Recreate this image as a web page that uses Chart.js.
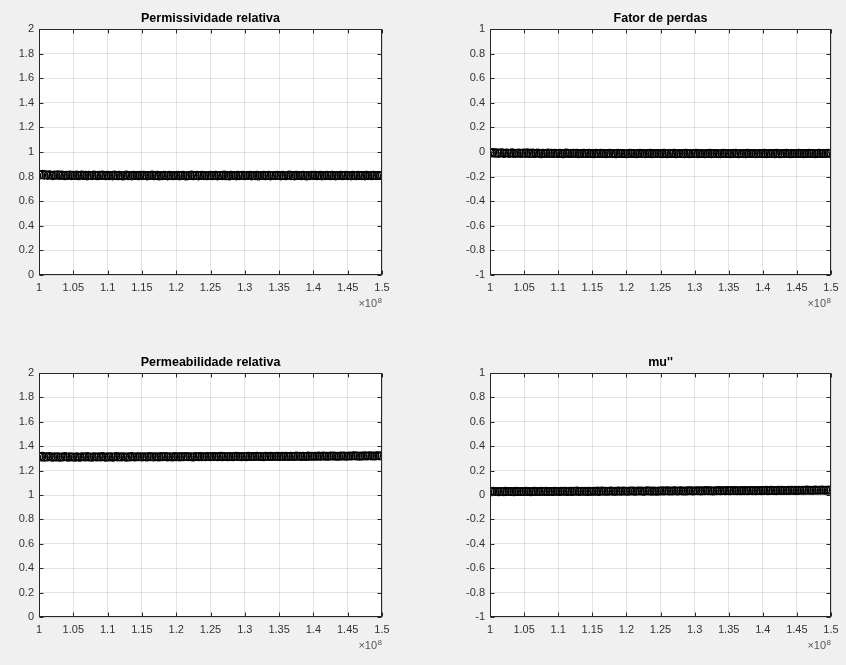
<!DOCTYPE html>
<html>
<head>
<meta charset="utf-8">
<script src="https://cdn.jsdelivr.net/npm/chart.js@4.4.1/dist/chart.umd.min.js"></script>
<style>
  html, body { margin:0; padding:0; background:#f0f0f0; }
  body { width:846px; height:665px; position:relative; overflow:hidden; }
  canvas { position:absolute; }
</style>
</head>
<body>
<canvas id="c1" width="423" height="332" style="left:0;top:0"></canvas>
<canvas id="c2" width="423" height="332" style="left:423px;top:0"></canvas>
<canvas id="c3" width="423" height="333" style="left:0;top:332px"></canvas>
<canvas id="c4" width="423" height="333" style="left:423px;top:332px"></canvas>
<script>
// Frequency sweep (MHz)
const freqMHz = [
 100,100.25,100.5,100.75,101,101.25,101.5,101.75,102,102.25,102.5,102.75,103,103.25,103.5,103.75,104,104.25,104.5,104.75,
 105,105.25,105.5,105.75,106,106.25,106.5,106.75,107,107.25,107.5,107.75,108,108.25,108.5,108.75,109,109.25,109.5,109.75,
 110,110.25,110.5,110.75,111,111.25,111.5,111.75,112,112.25,112.5,112.75,113,113.25,113.5,113.75,114,114.25,114.5,114.75,
 115,115.25,115.5,115.75,116,116.25,116.5,116.75,117,117.25,117.5,117.75,118,118.25,118.5,118.75,119,119.25,119.5,119.75,
 120,120.25,120.5,120.75,121,121.25,121.5,121.75,122,122.25,122.5,122.75,123,123.25,123.5,123.75,124,124.25,124.5,124.75,
 125,125.25,125.5,125.75,126,126.25,126.5,126.75,127,127.25,127.5,127.75,128,128.25,128.5,128.75,129,129.25,129.5,129.75,
 130,130.25,130.5,130.75,131,131.25,131.5,131.75,132,132.25,132.5,132.75,133,133.25,133.5,133.75,134,134.25,134.5,134.75,
 135,135.25,135.5,135.75,136,136.25,136.5,136.75,137,137.25,137.5,137.75,138,138.25,138.5,138.75,139,139.25,139.5,139.75,
 140,140.25,140.5,140.75,141,141.25,141.5,141.75,142,142.25,142.5,142.75,143,143.25,143.5,143.75,144,144.25,144.5,144.75,
 145,145.25,145.5,145.75,146,146.25,146.5,146.75,147,147.25,147.5,147.75,148,148.25,148.5,148.75,149,149.25,149.5,149.75,
 150
];
// Permissividade relativa
const permissividade = [
 0.818,0.813,0.820,0.811,0.816,0.809,0.815,0.812,0.807,0.814,0.810,0.816,0.808,0.813,0.811,0.806,0.812,0.809,0.814,0.807,
 0.811,0.808,0.813,0.806,0.810,0.814,0.808,0.811,0.805,0.812,0.809,0.807,0.813,0.810,0.806,0.811,0.808,0.814,0.809,0.806,
 0.812,0.807,0.810,0.805,0.813,0.809,0.806,0.811,0.808,0.804,0.810,0.813,0.807,0.809,0.805,0.812,0.808,0.810,0.806,0.811,
 0.807,0.812,0.809,0.805,0.810,0.808,0.813,0.806,0.809,0.811,0.804,0.810,0.807,0.812,0.808,0.805,0.811,0.809,0.806,0.810,
 0.808,0.812,0.805,0.809,0.811,0.807,0.804,0.810,0.808,0.813,0.806,0.809,0.811,0.805,0.808,0.812,0.807,0.810,0.806,0.809,
 0.811,0.806,0.809,0.812,0.805,0.808,0.810,0.807,0.813,0.806,0.809,0.804,0.811,0.808,0.810,0.805,0.812,0.807,0.809,0.811,
 0.806,0.810,0.808,0.812,0.805,0.809,0.807,0.811,0.804,0.810,0.808,0.812,0.806,0.809,0.811,0.805,0.808,0.810,0.807,0.812,
 0.809,0.805,0.811,0.808,0.806,0.810,0.813,0.807,0.809,0.805,0.811,0.808,0.810,0.806,0.812,0.809,0.804,0.810,0.807,0.811,
 0.808,0.812,0.806,0.809,0.811,0.805,0.810,0.807,0.812,0.808,0.806,0.811,0.809,0.805,0.810,0.808,0.812,0.806,0.809,0.811,
 0.807,0.810,0.805,0.812,0.808,0.806,0.811,0.809,0.807,0.810,0.805,0.812,0.808,0.810,0.806,0.811,0.809,0.807,0.810,0.808,
 0.809
];
// Fator de perdas
const fatorPerdas = [
 -0.004,-0.009,-0.003,-0.011,-0.006,-0.012,-0.008,-0.005,-0.013,-0.009,-0.007,-0.012,-0.010,-0.006,-0.014,-0.009,-0.011,-0.007,-0.013,-0.010,
 -0.008,-0.012,-0.006,-0.014,-0.010,-0.008,-0.013,-0.011,-0.007,-0.012,-0.015,-0.009,-0.011,-0.013,-0.008,-0.012,-0.010,-0.014,-0.009,-0.011,
 -0.013,-0.009,-0.012,-0.015,-0.010,-0.008,-0.013,-0.011,-0.014,-0.009,-0.012,-0.010,-0.016,-0.011,-0.013,-0.009,-0.012,-0.014,-0.010,-0.013,
 -0.011,-0.015,-0.009,-0.012,-0.014,-0.010,-0.013,-0.011,-0.016,-0.012,-0.009,-0.014,-0.011,-0.013,-0.015,-0.010,-0.012,-0.014,-0.011,-0.013,
 -0.016,-0.012,-0.010,-0.014,-0.011,-0.013,-0.015,-0.012,-0.009,-0.014,-0.012,-0.016,-0.011,-0.013,-0.010,-0.015,-0.012,-0.014,-0.011,-0.013,
 -0.012,-0.015,-0.010,-0.013,-0.016,-0.011,-0.014,-0.012,-0.010,-0.015,-0.013,-0.011,-0.014,-0.012,-0.016,-0.010,-0.013,-0.015,-0.011,-0.014,
 -0.012,-0.010,-0.015,-0.013,-0.011,-0.014,-0.016,-0.012,-0.013,-0.010,-0.015,-0.012,-0.014,-0.011,-0.013,-0.016,-0.012,-0.010,-0.014,-0.013,
 -0.011,-0.015,-0.012,-0.014,-0.010,-0.013,-0.016,-0.011,-0.014,-0.012,-0.015,-0.010,-0.013,-0.011,-0.014,-0.012,-0.016,-0.013,-0.011,-0.014,
 -0.012,-0.010,-0.015,-0.013,-0.011,-0.014,-0.012,-0.016,-0.010,-0.013,-0.015,-0.011,-0.014,-0.012,-0.010,-0.013,-0.015,-0.012,-0.014,-0.011,
 -0.013,-0.010,-0.014,-0.012,-0.015,-0.011,-0.013,-0.010,-0.014,-0.012,-0.011,-0.015,-0.013,-0.010,-0.012,-0.014,-0.011,-0.013,-0.010,-0.012,
 -0.010
];
// Permeabilidade relativa
const permeabilidade = [
 1.316,1.311,1.318,1.309,1.314,1.310,1.316,1.312,1.308,1.314,1.311,1.315,1.309,1.313,1.310,1.316,1.312,1.309,1.314,1.311,
 1.313,1.309,1.315,1.311,1.308,1.314,1.312,1.310,1.316,1.311,1.313,1.309,1.315,1.312,1.310,1.314,1.311,1.316,1.312,1.309,
 1.314,1.311,1.315,1.309,1.313,1.316,1.311,1.314,1.310,1.315,1.312,1.309,1.314,1.311,1.316,1.313,1.310,1.315,1.312,1.314,
 1.310,1.315,1.313,1.311,1.316,1.312,1.314,1.310,1.315,1.313,1.311,1.317,1.312,1.314,1.316,1.311,1.315,1.313,1.310,1.316,
 1.313,1.315,1.311,1.317,1.312,1.314,1.316,1.312,1.315,1.313,1.311,1.316,1.314,1.312,1.317,1.313,1.315,1.312,1.316,1.314,
 1.312,1.317,1.314,1.316,1.313,1.315,1.318,1.313,1.316,1.314,1.312,1.317,1.315,1.313,1.316,1.318,1.314,1.316,1.313,1.317,
 1.315,1.313,1.318,1.315,1.317,1.314,1.316,1.319,1.314,1.317,1.315,1.313,1.318,1.316,1.314,1.319,1.315,1.317,1.316,1.318,
 1.314,1.317,1.319,1.315,1.318,1.316,1.314,1.319,1.317,1.315,1.320,1.316,1.318,1.315,1.319,1.317,1.315,1.320,1.317,1.318,
 1.316,1.319,1.317,1.321,1.316,1.318,1.320,1.317,1.319,1.316,1.320,1.318,1.321,1.317,1.319,1.316,1.321,1.318,1.320,1.317,
 1.319,1.321,1.318,1.320,1.322,1.318,1.320,1.317,1.321,1.319,1.322,1.318,1.320,1.323,1.319,1.321,1.318,1.322,1.320,1.321,
 1.322
];
// mu''
const muDuasLinhas = [
 0.030,0.026,0.031,0.027,0.029,0.025,0.030,0.028,0.026,0.031,0.028,0.030,0.027,0.029,0.026,0.031,0.028,0.030,0.027,0.029,
 0.027,0.031,0.028,0.030,0.026,0.029,0.032,0.028,0.030,0.027,0.031,0.029,0.027,0.032,0.028,0.030,0.029,0.027,0.031,0.029,
 0.030,0.028,0.032,0.029,0.031,0.027,0.030,0.032,0.028,0.031,0.029,0.033,0.028,0.030,0.032,0.029,0.031,0.028,0.032,0.030,
 0.029,0.032,0.030,0.033,0.028,0.031,0.033,0.030,0.032,0.029,0.031,0.034,0.030,0.032,0.029,0.033,0.031,0.029,0.033,0.031,
 0.032,0.030,0.034,0.031,0.033,0.029,0.032,0.034,0.031,0.033,0.030,0.032,0.035,0.031,0.033,0.030,0.034,0.032,0.030,0.034,
 0.032,0.035,0.031,0.033,0.035,0.032,0.034,0.031,0.035,0.033,0.031,0.034,0.036,0.032,0.034,0.031,0.035,0.033,0.036,0.032,
 0.034,0.036,0.033,0.035,0.032,0.036,0.034,0.037,0.033,0.035,0.034,0.032,0.036,0.034,0.037,0.033,0.035,0.036,0.034,0.037,
 0.035,0.033,0.037,0.035,0.038,0.034,0.036,0.034,0.038,0.035,0.037,0.034,0.036,0.038,0.035,0.037,0.034,0.038,0.036,0.035,
 0.038,0.036,0.039,0.035,0.037,0.039,0.036,0.038,0.035,0.039,0.037,0.040,0.036,0.038,0.036,0.039,0.037,0.040,0.037,0.039,
 0.036,0.039,0.038,0.040,0.037,0.039,0.041,0.038,0.040,0.037,0.039,0.041,0.038,0.040,0.039,0.042,0.038,0.040,0.039,0.041,
 0.040
];
const titles = ['Permissividade relativa','Fator de perdas','Permeabilidade relativa',"mu''"];
const xTickValues = [1,1.05,1.1,1.15,1.2,1.25,1.3,1.35,1.4,1.45,1.5]; // ×10^8
const yRanges = [[0,2],[-1,1],[0,2],[-1,1]];

const FONT = "'Liberation Sans', Arial, Helvetica, sans-serif";
const AXIS_COLOR = '#262626';

const matlabAxes = {
  id: 'matlabAxes',
  beforeDraw(chart) {
    const {ctx, chartArea: a} = chart;
    ctx.save();
    ctx.fillStyle = '#ffffff';
    ctx.fillRect(a.left, a.top, a.right - a.left, a.bottom - a.top);
    ctx.restore();
  },
  afterDraw(chart) {
    const {ctx, chartArea: a} = chart;
    const L = Math.round(a.left) + 0.5, R = Math.round(a.right) - 0.5;
    const T = Math.round(a.top) + 0.5, B = Math.round(a.bottom) - 0.5;
    ctx.save();
    ctx.strokeStyle = AXIS_COLOR;
    ctx.lineWidth = 1;
    ctx.strokeRect(L, T, R - L, B - T);
    const tl = 4;
    ctx.beginPath();
    chart.scales.x.ticks.forEach(t => {
      const px = Math.round(chart.scales.x.getPixelForValue(t.value)) + 0.5;
      ctx.moveTo(px, B); ctx.lineTo(px, B - tl);
      ctx.moveTo(px, T); ctx.lineTo(px, T + tl);
    });
    chart.scales.y.ticks.forEach(t => {
      const py = Math.round(chart.scales.y.getPixelForValue(t.value)) + 0.5;
      ctx.moveTo(L, py); ctx.lineTo(L + tl, py);
      ctx.moveTo(R, py); ctx.lineTo(R - tl, py);
    });
    ctx.stroke();
    // title
    const opt = chart.options.plugins.matlabAxes;
    ctx.fillStyle = '#000';
    ctx.font = 'bold 12.5px ' + FONT;
    ctx.textAlign = 'center';
    ctx.textBaseline = 'middle';
    ctx.fillText(opt.title, (a.left + a.right) / 2, a.top - 10);
    // exponent label
    ctx.fillStyle = '#555';
    ctx.textAlign = 'right';
    ctx.textBaseline = 'alphabetic';
    ctx.font = '8px ' + FONT;
    const eW = ctx.measureText('8').width;
    ctx.fillText('8', a.right, a.bottom + 28);
    ctx.font = '11px ' + FONT;
    ctx.fillText('\u00d710', a.right - eW - 0.5, a.bottom + 32);
    ctx.restore();
  }
};

function makeChart(id, idx, values, pad, yW) {
  const pts = freqMHz.map((f, i) => ({x: f * 1e6, y: values[i]}));
  const [ymin, ymax] = yRanges[idx];
  new Chart(document.getElementById(id), {
    type: 'scatter',
    data: { datasets: [{
      data: pts,
      showLine: false,
      pointStyle: 'circle',
      pointRadius: 3.8,
      pointBorderWidth: 1.2,
      pointBorderColor: '#000',
      pointBackgroundColor: 'rgba(0,0,0,0)'
    }]},
    options: {
      responsive: false,
      animation: false,
      devicePixelRatio: 1,
      layout: { padding: pad },
      plugins: { legend: {display:false}, tooltip: {enabled:false}, title: {display:false},
                 matlabAxes: { title: titles[idx] } },
      scales: {
        x: {
          type: 'linear', min: 1e8, max: 1.5e8,
          afterBuildTicks: s => { s.ticks = xTickValues.map(v => ({value: v * 1e8})); },
          afterFit: s => { s.height = 20; },
          ticks: { autoSkip:false, maxRotation:0, padding: 6, color:'#333',
                   font:{family:FONT, size:11},
                   callback: v => String(Number((v/1e8).toFixed(2))) },
          grid: { color:'rgba(38,38,38,0.13)', drawTicks:false, lineWidth:1 },
          border: { display:false }
        },
        y: {
          min: ymin, max: ymax,
          afterFit: s => { s.width = yW; },
          ticks: { stepSize: 0.2, autoSkip:false, padding: 5, color:'#333',
                   font:{family:FONT, size:11},
                   callback: v => String(Number(v.toFixed(2))) },
          grid: { color:'rgba(38,38,38,0.13)', drawTicks:false, lineWidth:1 },
          border: { display:false }
        }
      }
    },
    plugins: [matlabAxes]
  });
}

makeChart('c1', 0, permissividade, {left:0, right:41, top:29, bottom:37}, 39);
makeChart('c2', 1, fatorPerdas,   {left:27, right:15, top:29, bottom:37}, 40);
makeChart('c3', 2, permeabilidade,{left:0, right:41, top:41, bottom:28}, 39);
makeChart('c4', 3, muDuasLinhas,  {left:27, right:15, top:41, bottom:28}, 40);
</script>
</body>
</html>
